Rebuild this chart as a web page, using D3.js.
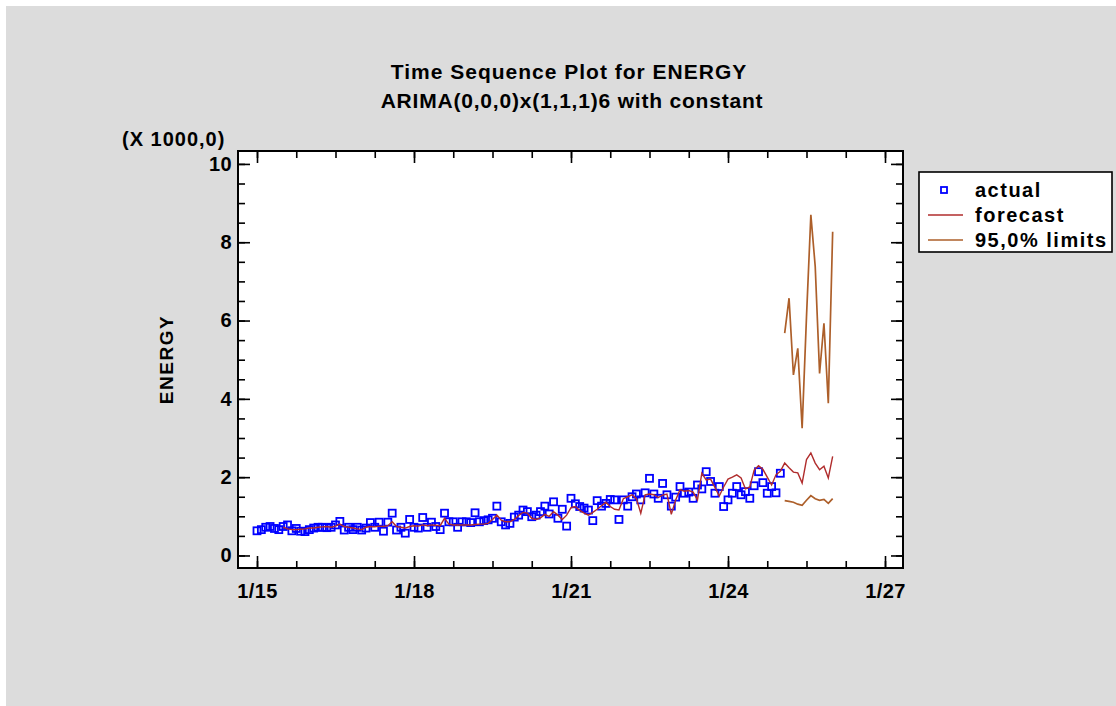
<!DOCTYPE html>
<html>
<head>
<meta charset="utf-8">
<script src="https://cdn.jsdelivr.net/npm/d3@7"></script>
<style>
  body { margin: 0; background: #fff; }
  svg text { font-family: Arial, "Liberation Sans", sans-serif; font-weight: bold; fill: #000; }
</style>
</head>
<body>
<svg id="chart" width="1116" height="706"></svg>
<script>
/* Time sequence plot: monthly ENERGY (x 1000) with one-step fits,
   12 month forecast and 95% limits. */

// ---- data ----
const startYear = 2015;          // first observation: 1/15
const actual = [
  0.63, 0.66, 0.72, 0.74, 0.69, 0.66, 0.74, 0.78, 0.63, 0.69, 0.62, 0.61,
  0.66, 0.70, 0.72, 0.72, 0.71, 0.72, 0.78, 0.87, 0.65, 0.72, 0.66, 0.72,
  0.65, 0.70, 0.84, 0.72, 0.85, 0.62, 0.85, 1.08, 0.65, 0.72, 0.57, 0.92,
  0.72, 0.70, 0.97, 0.72, 0.85, 0.74, 0.66, 1.08, 0.86, 0.86, 0.72, 0.86,
  0.86, 0.84, 1.09, 0.86, 0.89, 0.91, 0.95, 1.26, 0.86, 0.78, 0.82, 0.98,
  1.03, 1.16, 1.12, 0.99, 1.03, 1.12, 1.26, 1.06, 1.37, 0.95, 1.18, 0.75,
  1.46, 1.32, 1.25, 1.21, 1.16, 0.89, 1.40, 1.26, 1.33, 1.43, 1.42, 0.92,
  1.42, 1.26, 1.50, 1.57, 1.42, 1.60, 1.97, 1.57, 1.46, 1.84, 1.55, 1.26,
  1.49, 1.76, 1.59, 1.62, 1.46, 1.80, 1.70, 2.14, 1.89, 1.59, 1.76, 1.25,
  1.42, 1.59, 1.76, 1.55, 1.63, 1.46, 1.78, 2.14, 1.86, 1.59, 1.76, 1.60,
  2.10
];
const fittedStart = 6;           // one-step forecasts begin at month 7
const fitted = [
  0.72, 0.68, 0.66, 0.66, 0.67, 0.68,
  0.70, 0.70, 0.72, 0.73, 0.74, 0.72, 0.75, 0.80, 0.74, 0.72, 0.70, 0.68,
  0.66, 0.72, 0.74, 0.73, 0.75, 0.74, 0.76, 0.86, 0.74, 0.72, 0.70, 0.74,
  0.76, 0.75, 0.78, 0.76, 0.78, 0.77, 0.76, 0.95, 0.80, 0.78, 0.78, 0.78,
  0.78, 0.78, 0.79, 0.80, 0.80, 0.82, 0.92, 1.03, 0.90, 0.86, 0.86, 0.92,
  1.02, 1.10, 1.08, 0.95, 0.92, 0.96, 1.05, 1.00, 1.12, 1.03, 0.92, 1.03,
  1.22, 1.25, 1.15, 1.08, 1.03, 1.10, 1.18, 1.27, 1.36, 1.25, 1.18, 1.16,
  1.45, 1.50, 1.55, 1.45, 1.08, 1.55, 1.57, 1.55, 1.48, 1.54, 1.57, 1.05,
  1.42, 1.68, 1.64, 1.66, 1.62, 1.42, 2.10, 1.93, 1.95, 1.74, 1.52, 1.75,
  1.95, 2.00, 2.06, 1.98, 1.70, 1.75, 2.18, 2.29, 2.20, 2.00, 1.80, 2.06,
  2.15
];
const forecast = [2.36, 2.24, 2.13, 2.11, 1.85, 2.45, 2.62, 2.36, 2.19, 2.28, 1.98, 2.53];
const lower95  = [1.40, 1.38, 1.36, 1.31, 1.28, 1.41, 1.53, 1.45, 1.41, 1.43, 1.33, 1.45];
const upper95  = [5.68, 6.57, 4.61, 5.29, 3.25, 6.10, 8.70, 7.38, 4.65, 5.93, 3.89, 8.27];

const xTickYears = [2015, 2018, 2021, 2024, 2027];
const xTickLabels = ["1/15", "1/18", "1/21", "1/24", "1/27"];
const yTicks = [0, 2, 4, 6, 8, 10];
const legendLabels = ["actual", "forecast", "95,0% limits"];

// ---- layout ----
const W = 1116, H = 706;
const frame = { left: 238, right: 903, top: 151, bottom: 568 };
const colActual = "#0000ff", colForecast = "#b02c2c", colLimits = "#ad5f2a";

const svg = d3.select("#chart");

svg.append("rect").attr("x", 6).attr("y", 6).attr("width", W - 6).attr("height", H - 6)
  .attr("fill", "#dcdcdc");

const x = d3.scaleLinear()
  .domain([2015 - 19 / 52.33, 2027 + 18 / 52.33])
  .range([frame.left, frame.right]);
const y = d3.scaleLinear()
  .domain([-0.32, 10.33])
  .range([frame.bottom, frame.top]);

const t = i => startYear + i / 12;   // month index -> decimal year

svg.append("rect")
  .attr("x", frame.left).attr("y", frame.top)
  .attr("width", frame.right - frame.left).attr("height", frame.bottom - frame.top)
  .attr("fill", "#fff");

// ---- axes (ticks point inward on all four sides) ----
const minorX = d3.range(2015, 2027.01, 0.75);
const minorY = d3.range(0, 10.01, 0.5);

function addAxis(axis, tx, ty) {
  const gAx = svg.append("g").attr("transform", `translate(${tx},${ty})`).call(axis);
  gAx.select(".domain").remove();
  gAx.selectAll(".tick line").attr("stroke", "#000").attr("stroke-width", 1.6);
  gAx.selectAll("text").attr("font-size", 20).attr("font-family", null)
    .attr("letter-spacing", 0.4);
  return gAx;
}

addAxis(d3.axisBottom(x).tickValues(minorX).tickSize(-7).tickFormat(""), 0, frame.bottom);
addAxis(d3.axisTop(x).tickValues(minorX).tickSize(-7).tickFormat(""), 0, frame.top);
addAxis(d3.axisBottom(x).tickValues(xTickYears).tickSize(-12).tickPadding(16)
  .tickFormat((d, i) => xTickLabels[i]), 0, frame.bottom);
addAxis(d3.axisTop(x).tickValues(xTickYears).tickSize(-12).tickFormat(""), 0, frame.top);

addAxis(d3.axisLeft(y).tickValues(minorY).tickSize(-7).tickFormat(""), frame.left, 0);
addAxis(d3.axisRight(y).tickValues(minorY).tickSize(-7).tickFormat(""), frame.right, 0);
addAxis(d3.axisLeft(y).tickValues(yTicks).tickSize(-12).tickPadding(6), frame.left, 0);
addAxis(d3.axisRight(y).tickValues(yTicks).tickSize(-12).tickFormat(""), frame.right, 0);

// ---- series ----
const plot = svg.append("g");
const line = d3.line().x(d => x(d.t)).y(d => y(d.v));

const fitData = fitted.map((v, i) => ({ t: t(fittedStart + i), v }))
  .concat(forecast.map((v, i) => ({ t: t(actual.length + i), v })));
const lowData = lower95.map((v, i) => ({ t: t(actual.length + i), v }));
const upData = upper95.map((v, i) => ({ t: t(actual.length + i), v }));

plot.selectAll("rect.actual")
  .data(actual)
  .join("rect")
  .attr("class", "actual")
  .attr("x", (v, i) => x(t(i)) - 3.5)
  .attr("y", v => y(v) - 3.5)
  .attr("width", 7).attr("height", 7)
  .attr("fill", "none").attr("stroke", colActual).attr("stroke-width", 1.8);

plot.append("path").datum(fitData).attr("d", line)
  .attr("fill", "none").attr("stroke", colForecast).attr("stroke-width", 1.4);
[lowData, upData].forEach(dd => plot.append("path").datum(dd).attr("d", line)
  .attr("fill", "none").attr("stroke", colLimits).attr("stroke-width", 1.7));

// frame on top
svg.append("rect")
  .attr("x", frame.left).attr("y", frame.top)
  .attr("width", frame.right - frame.left).attr("height", frame.bottom - frame.top)
  .attr("fill", "none").attr("stroke", "#000").attr("stroke-width", 2);

// ---- titles ----
svg.append("text").attr("x", 569).attr("y", 79).attr("text-anchor", "middle")
  .attr("font-size", 21).attr("letter-spacing", 1).text("Time Sequence Plot for ENERGY");
svg.append("text").attr("x", 572).attr("y", 108).attr("text-anchor", "middle")
  .attr("font-size", 21).attr("letter-spacing", 0.8).text("ARIMA(0,0,0)x(1,1,1)6 with constant");
svg.append("text").attr("x", 122).attr("y", 146)
  .attr("font-size", 20).attr("letter-spacing", 1).text("(X 1000,0)");
svg.append("text")
  .attr("transform", `translate(173,${(frame.top + frame.bottom) / 2}) rotate(-90)`)
  .attr("text-anchor", "middle").attr("font-size", 19).attr("letter-spacing", 1.5)
  .text("ENERGY");

// ---- legend ----
const lg = svg.append("g").attr("transform", "translate(919,172)");
lg.append("rect").attr("width", 193).attr("height", 80)
  .attr("fill", "#fff").attr("stroke", "#000").attr("stroke-width", 1.6);
legendLabels.forEach((lab, i) => {
  const cy = 18 + i * 25;
  if (i === 0) {
    lg.append("rect").attr("x", 22).attr("y", cy - 3).attr("width", 6).attr("height", 6)
      .attr("fill", "none").attr("stroke", colActual).attr("stroke-width", 1.8);
  } else {
    lg.append("line").attr("x1", 9).attr("x2", 44).attr("y1", cy).attr("y2", cy)
      .attr("stroke", i === 1 ? colForecast : colLimits).attr("stroke-width", 1.5);
  }
  lg.append("text").attr("x", 56).attr("y", cy + 7).attr("font-size", 20)
    .attr("letter-spacing", 1.5).text(lab);
});
</script>
</body>
</html>
